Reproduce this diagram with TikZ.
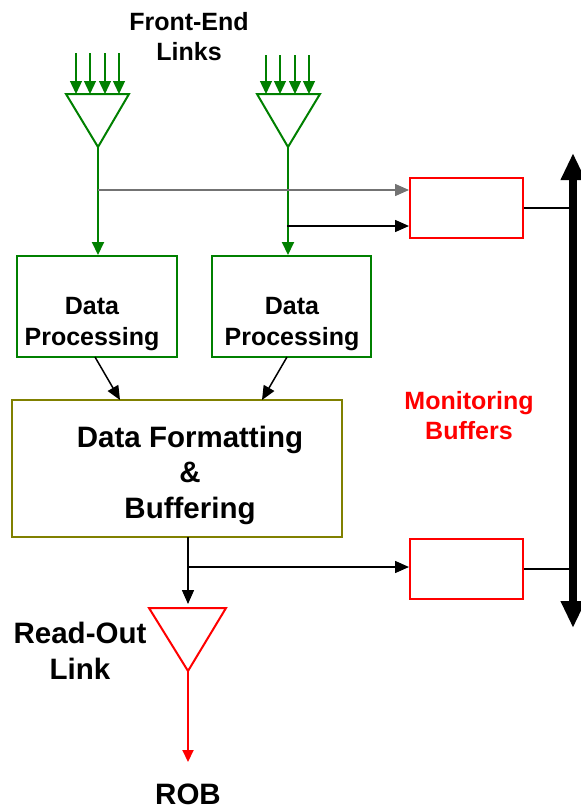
\documentclass[tikz,border=0pt]{standalone}
\usepackage{fontspec}
\setmainfont{Liberation Sans}
\usetikzlibrary{arrows.meta}
\definecolor{grn}{RGB}{0,128,0}
\definecolor{olv}{RGB}{128,128,0}
\definecolor{rd}{RGB}{255,0,0}
\definecolor{gry}{RGB}{115,115,115}
\begin{document}
\begin{tikzpicture}[x=1pt,y=-1pt,
 lbl/.style={font=\bfseries\fontsize{25}{30}\selectfont, align=center, inner sep=0pt},
 lblb/.style={font=\bfseries\fontsize{25}{31}\selectfont, align=center, inner sep=0pt},
 big/.style={font=\bfseries\fontsize{29.5}{35.5}\selectfont, align=center, inner sep=0pt},
 gbox/.style={draw=grn, line width=2pt, inner sep=0pt},
 rbox/.style={draw=rd, line width=2pt, minimum width=113pt, minimum height=60pt, inner sep=0pt},
 obox/.style={draw=olv, line width=2pt, inner sep=0pt},
 gtri/.style={draw=grn, line width=2pt, line join=miter},
 rtri/.style={draw=rd, line width=2pt, line join=miter},
 garr/.style={draw=grn, line width=2pt, -{Triangle[length=13pt,width=12pt]}},
 gin/.style={draw=grn, line width=1.3pt, -{Triangle[length=13pt,width=12pt]}},
 barr/.style={draw=black, line width=1.5pt, -{Triangle[length=14pt,width=12pt]}},
 grarr/.style={draw=gry, line width=1.5pt, -{Triangle[length=14pt,width=12pt]}},
 bln/.style={draw=black, line width=1.5pt},
 rarr/.style={draw=rd, line width=2pt, -{Triangle[length=12pt,width=11pt]}},
 bus/.style={draw=black, line width=8pt, {Triangle[length=27pt,width=23pt]}-{Triangle[length=27pt,width=23pt]}}
]
\useasboundingbox (0,0) rectangle (581,809);

% labels
\node[lbl] (fel) at (189,37) {Front-End\\Links};
\node[lbl, text=rd] (mbl) at (469,416) {Monitoring\\Buffers};
\node[big] (rol) at (80,651) {Read-Out\\Link};
\node[big] (rob) at (188,794) {ROB};

% input triangles
\coordinate (t1l) at (66,94); \coordinate (t1r) at (129,94); \coordinate (t1a) at (98,147);
\coordinate (t2l) at (257,94); \coordinate (t2r) at (320,94); \coordinate (t2a) at (288,147);
\draw[gtri] (t1l) -- (t1r) -- (t1a) -- cycle;
\draw[gtri] (t2l) -- (t2r) -- (t2a) -- cycle;
\foreach \x [count=\i] in {76,90,105,119}{
  \coordinate (a\i s) at (\x,53); \coordinate (a\i e) at (\x,94);
  \draw[gin] (a\i s) -- (a\i e);
}
\foreach \x [count=\i] in {266,280,295,309}{
  \coordinate (b\i s) at (\x,55); \coordinate (b\i e) at (\x,94);
  \draw[gin] (b\i s) -- (b\i e);
}

% processing boxes
\node[gbox, minimum width=160pt, minimum height=101pt] (dp1) at (97,306.5) {};
\node[gbox, minimum width=159pt, minimum height=101pt] (dp2) at (291.5,306.5) {};
\node[lblb] (dp1t) at (92,324) {Data\\Processing};
\node[lblb] (dp2t) at (292,324) {Data\\Processing};

% formatting box
\node[obox, minimum width=330pt, minimum height=137pt] (dfb) at (177,468.5) {};
\node[big] (dfbt) at (190,475) {Data Formatting\\\&\\Buffering};

% monitoring buffers
\node[rbox] (mb1) at (466.5,208) {};
\node[rbox] (mb2) at (466.5,569) {};

% bus
\coordinate (bt) at (573,153);
\coordinate (bb) at (573,628);
\draw[bus] (bt) -- (bb);
\draw[bln] (mb1.east) -- (mb1.east -| bt);
\draw[bln] (mb2.east) -- (mb2.east -| bt);

% green connectors
\draw[garr] (t1a) -- (t1a |- dp1.north);
\draw[garr] (t2a) -- (t2a |- dp2.north);

% taps to monitoring buffer 1
\coordinate (g1) at (98,190);
\coordinate (g2) at (287,226);
\draw[grarr] (g1) -- (g1 -| mb1.west);
\draw[barr] (g2) -- (g2 -| mb1.west);

% processing to formatting
\coordinate (p1) at (95,357); \coordinate (q1) at (120,400);
\coordinate (p2) at (287,357); \coordinate (q2) at (262,400);
\draw[barr] (p1) -- (q1);
\draw[barr] (p2) -- (q2);

% read-out
\coordinate (rl) at (149,608); \coordinate (rr) at (226,608); \coordinate (ra) at (188,671);
\draw[rtri] (rl) -- (rr) -- (ra) -- cycle;
\coordinate (o1) at (188,537);
\coordinate (o2) at (188,604);
\coordinate (br) at (188,567);
\draw[barr] (o1) -- (o2);
\draw[barr] (br) -- (br -| mb2.west);
\coordinate (re) at (188,762);
\draw[rarr] (ra) -- (re);
\end{tikzpicture}
\end{document}
